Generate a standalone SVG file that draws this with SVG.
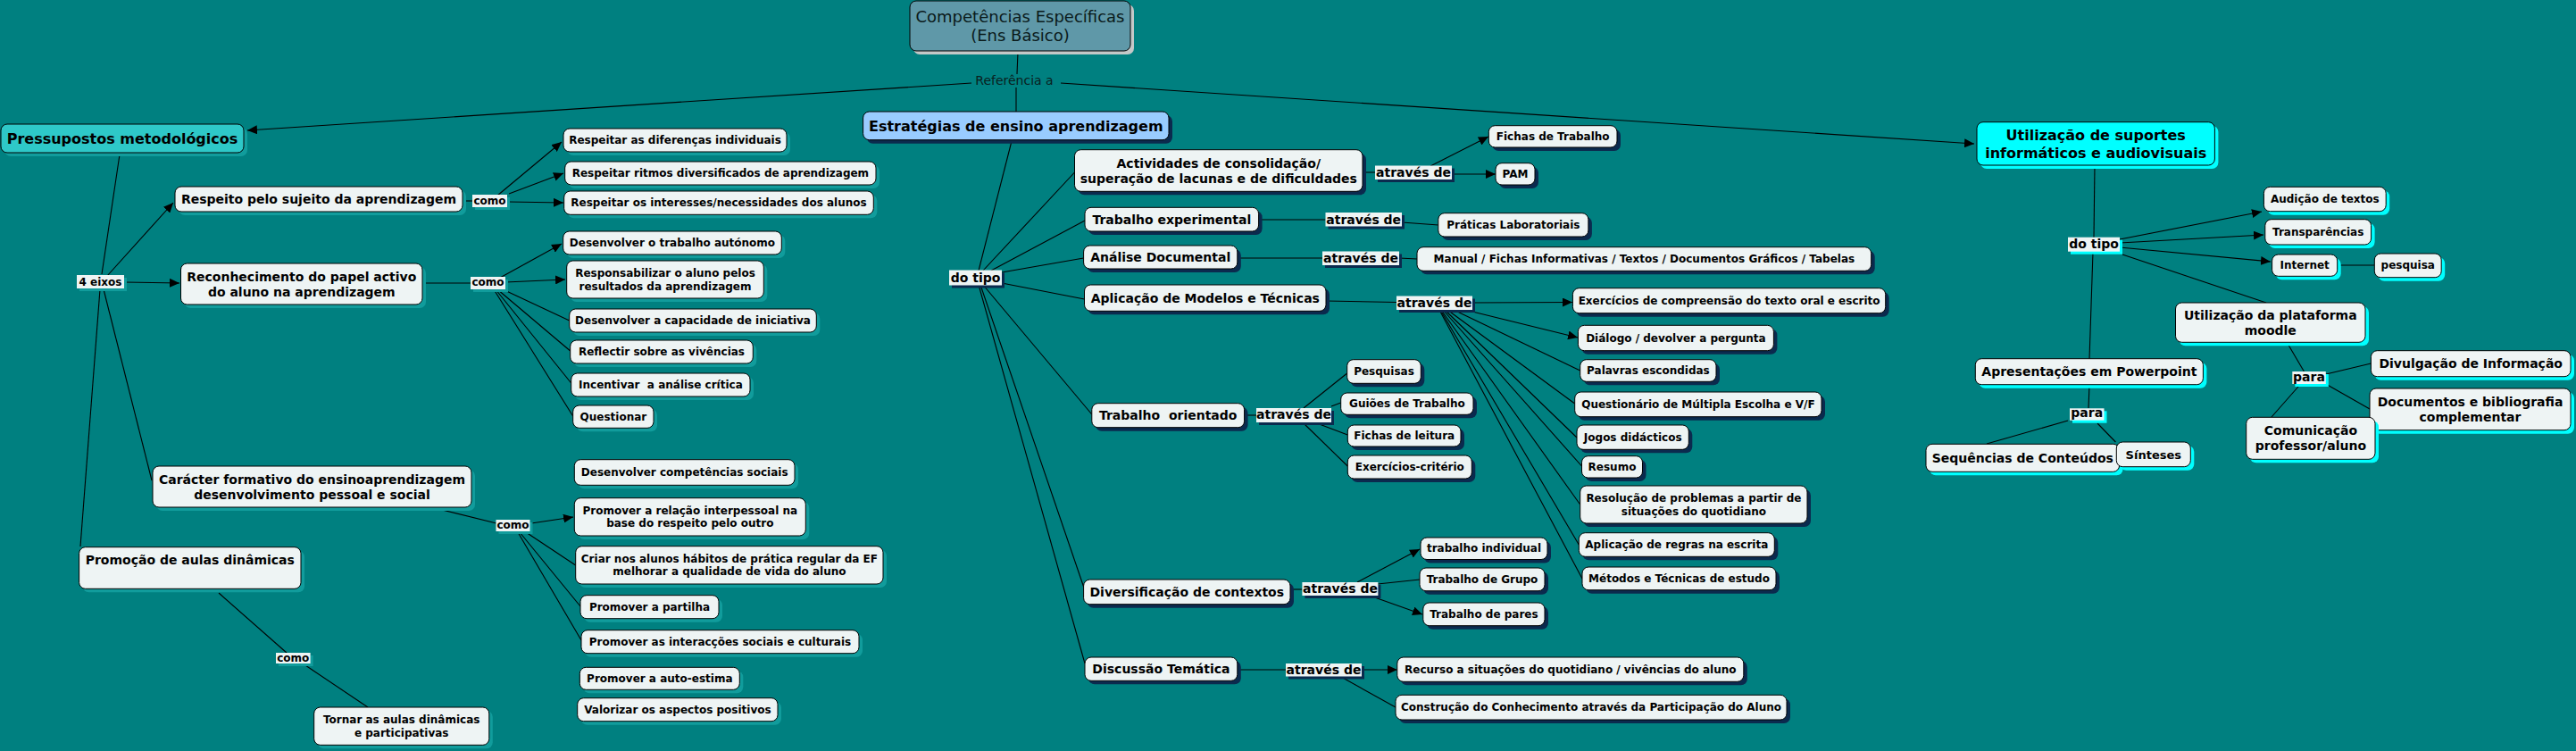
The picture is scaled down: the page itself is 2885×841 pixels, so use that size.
<svg xmlns="http://www.w3.org/2000/svg" width="2885" height="841" viewBox="0 0 2885 841">
<style>
text{font-family:"DejaVu Sans",Verdana,sans-serif;font-weight:bold;fill:#000;text-anchor:middle}
.f12{font-size:12px}.f13{font-size:13px}.f14{font-size:14px}.f16{font-size:16px}
.reg{font-weight:normal}
.b{fill:#eef4f4;stroke:#000;stroke-width:1}
.lb{fill:#eef4f4}
.st{fill:#119c9c}.sn{fill:#0b2a4e}.sc{fill:#00ffff}.sg{fill:#c4c8c8}
.pre{white-space:pre}
#connectors line{stroke:#000;stroke-width:1.1;fill:none}
#connectors .ar{marker-end:url(#arr)}
</style>
<defs>
<marker id="arr" viewBox="0 0 11 10" refX="11" refY="5" markerWidth="11" markerHeight="10" markerUnits="userSpaceOnUse" orient="auto"><path d="M0,0 L11,5 L0,10 z" fill="#000"/></marker>
</defs>
<rect x="0" y="0" width="2885" height="841" fill="#008080"/>

<g id="connectors">
<line x1="1140" y1="58" x2="1139" y2="83"/>
<line class="ar" x1="1088" y1="93" x2="277" y2="146"/>
<line class="ar" x1="1188" y1="93" x2="2211" y2="161"/>
<line x1="1138" y1="98" x2="1138" y2="125"/>
<line x1="134" y1="173" x2="114" y2="307"/>
<line class="ar" x1="120" y1="309" x2="194" y2="227"/>
<line class="ar" x1="140" y1="316" x2="201" y2="317"/>
<line x1="112" y1="324" x2="90" y2="612"/>
<line x1="116" y1="324" x2="170" y2="538"/>
<line x1="518" y1="225" x2="529" y2="225"/>
<line class="ar" x1="557" y1="219" x2="629" y2="159"/>
<line class="ar" x1="570" y1="217" x2="631" y2="194"/>
<line class="ar" x1="569" y1="226" x2="631" y2="227"/>
<line x1="473" y1="317" x2="527" y2="317"/>
<line class="ar" x1="560" y1="311" x2="629" y2="273"/>
<line class="ar" x1="566" y1="316" x2="633" y2="313"/>
<line x1="563" y1="324" x2="637.7" y2="359"/>
<line x1="557" y1="324" x2="638.7" y2="393"/>
<line x1="555" y1="324" x2="639.7" y2="429"/>
<line x1="553" y1="324" x2="641.7" y2="466"/>
<line x1="487" y1="569" x2="556" y2="586"/>
<line class="ar" x1="595" y1="586" x2="642" y2="579"/>
<line x1="589" y1="596" x2="644.7" y2="633"/>
<line x1="582" y1="596" x2="650" y2="679"/>
<line x1="580" y1="596" x2="651" y2="717"/>
<line x1="245" y1="664" x2="321" y2="731"/>
<line x1="342" y1="745" x2="412" y2="792"/>
<line x1="1133" y1="158" x2="1096" y2="303"/>
<line x1="1101" y1="303" x2="1203.5" y2="193"/>
<line x1="1110" y1="303" x2="1215" y2="247"/>
<line x1="1122" y1="305" x2="1213.6" y2="289"/>
<line x1="1122" y1="317" x2="1214.5" y2="335"/>
<line x1="1101" y1="319" x2="1222.8" y2="464"/>
<line x1="1098" y1="319" x2="1213.6" y2="657"/>
<line x1="1096" y1="319" x2="1215" y2="743"/>
<line x1="1526" y1="193" x2="1540" y2="193"/>
<line class="ar" x1="1602" y1="186" x2="1667" y2="153"/>
<line class="ar" x1="1626" y1="195" x2="1675" y2="195"/>
<line x1="1410" y1="246" x2="1484.5" y2="246"/>
<line x1="1570" y1="249" x2="1611" y2="252"/>
<line x1="1386" y1="289" x2="1481" y2="289"/>
<line x1="1567" y1="289" x2="1587" y2="290"/>
<line x1="1485" y1="337" x2="1564" y2="338.5"/>
<line class="ar" x1="1649" y1="339" x2="1761" y2="338.5"/>
<line class="ar" x1="1649" y1="349" x2="1767" y2="378"/>
<line x1="1628" y1="347" x2="1769.7" y2="415"/>
<line x1="1621" y1="347" x2="1763.7" y2="452"/>
<line x1="1618" y1="347" x2="1766" y2="490"/>
<line x1="1616" y1="347" x2="1771.5" y2="522"/>
<line x1="1614" y1="347" x2="1769.7" y2="565"/>
<line x1="1613" y1="347" x2="1768.3" y2="610"/>
<line x1="1612" y1="347" x2="1772" y2="648"/>
<line x1="1394" y1="465" x2="1407" y2="465"/>
<line x1="1460" y1="457" x2="1508.7" y2="418"/>
<line x1="1491" y1="455" x2="1501.7" y2="451"/>
<line x1="1475" y1="474" x2="1509.3" y2="487"/>
<line x1="1460" y1="474" x2="1509.3" y2="522"/>
<line x1="1445" y1="660" x2="1458" y2="660"/>
<line class="ar" x1="1520" y1="652" x2="1590" y2="615"/>
<line x1="1543" y1="654" x2="1590" y2="649"/>
<line class="ar" x1="1534" y1="667" x2="1593" y2="688"/>
<line x1="1386" y1="750" x2="1440" y2="750"/>
<line class="ar" x1="1525" y1="750" x2="1564.8" y2="750"/>
<line x1="1502" y1="758" x2="1563" y2="792"/>
<line x1="2346" y1="185" x2="2345" y2="266"/>
<line class="ar" x1="2374" y1="268" x2="2533" y2="237"/>
<line class="ar" x1="2374" y1="272" x2="2535" y2="263"/>
<line class="ar" x1="2374" y1="277" x2="2543" y2="293"/>
<line x1="2618" y1="297" x2="2659" y2="297"/>
<line x1="2377" y1="285" x2="2538" y2="339"/>
<line x1="2344" y1="282" x2="2340" y2="402"/>
<line x1="2340" y1="431" x2="2339" y2="457"/>
<line x1="2316" y1="471" x2="2225" y2="497"/>
<line x1="2349" y1="474" x2="2369.4" y2="495"/>
<line x1="2561.6" y1="384" x2="2580.4" y2="416"/>
<line x1="2605" y1="419" x2="2655.4" y2="407"/>
<line x1="2604.8" y1="430" x2="2654" y2="458"/>
<line x1="2576.6" y1="430" x2="2544" y2="467"/>
</g>

<g id="lbl-referencia"><text class="f14 reg" x="1136" y="95" style="fill:#0a2020">Referência a</text></g>

<g id="lbl-4eixos"><rect class="st" x="89" y="311" width="53" height="15"/><rect class="lb" x="86" y="308" width="53" height="15"/><text class="f12" x="112.5" y="320">4 eixos</text></g>
<g id="lbl-como1"><rect class="st" x="532" y="221" width="39" height="14"/><rect class="lb" x="529" y="218" width="39" height="14"/><text class="f12" x="548.5" y="229">como</text></g>
<g id="lbl-como2"><rect class="st" x="530" y="313" width="39" height="14"/><rect class="lb" x="527" y="310" width="39" height="14"/><text class="f12" x="546.5" y="320">como</text></g>
<g id="lbl-como3"><rect class="st" x="558.5" y="585" width="38" height="13"/><rect class="lb" x="555.5" y="582" width="38" height="13"/><text class="f12" x="574.5" y="592">como</text></g>
<g id="lbl-como4"><rect class="st" x="312" y="734" width="38.6" height="12"/><rect class="lb" x="309" y="731" width="38.6" height="12"/><text class="f12" x="328.3" y="741">como</text></g>
<g id="lbl-dotipo1"><rect class="sn" x="1066" y="305.5" width="59" height="17"/><rect class="lb" x="1063" y="302.5" width="59" height="17"/><text class="f14" x="1092.5" y="316">do tipo</text></g>
<g id="lbl-atraves1"><rect class="sn" x="1543" y="188.5" width="86" height="15.5"/><rect class="lb" x="1540" y="185.5" width="86" height="15.5"/><text class="f14" x="1583" y="198">através de</text></g>
<g id="lbl-atraves2"><rect class="sn" x="1487.5" y="241" width="85.5" height="15.5"/><rect class="lb" x="1484.5" y="238" width="85.5" height="15.5"/><text class="f14" x="1527.2" y="250.5">através de</text></g>
<g id="lbl-atraves3"><rect class="sn" x="1484" y="284.5" width="86" height="15.5"/><rect class="lb" x="1481" y="281.5" width="86" height="15.5"/><text class="f14" x="1524" y="293.5">através de</text></g>
<g id="lbl-atraves4"><rect class="sn" x="1567" y="334.5" width="85" height="15.5"/><rect class="lb" x="1564" y="331.5" width="85" height="15.5"/><text class="f14" x="1606.5" y="344">através de</text></g>
<g id="lbl-atraves5"><rect class="sn" x="1410" y="460" width="84" height="16"/><rect class="lb" x="1407" y="457" width="84" height="16"/><text class="f14" x="1449" y="469.3">através de</text></g>
<g id="lbl-atraves6"><rect class="sn" x="1461.4" y="655" width="85" height="15"/><rect class="lb" x="1458.4" y="652" width="85" height="15"/><text class="f14" x="1501" y="664.3">através de</text></g>
<g id="lbl-atraves7"><rect class="sn" x="1443" y="746" width="85" height="14.5"/><rect class="lb" x="1440" y="743" width="85" height="14.5"/><text class="f14" x="1482.5" y="755">através de</text></g>
<g id="lbl-dotipo2"><rect class="sc" x="2319" y="268.7" width="58" height="16"/><rect class="lb" x="2316" y="265.7" width="58" height="16"/><text class="f14" x="2345" y="278.3">do tipo</text></g>
<g id="lbl-para1"><rect class="sc" x="2321" y="460.3" width="38.5" height="13.4"/><rect class="lb" x="2318" y="457.3" width="38.5" height="13.4"/><text class="f14" x="2337.2" y="467.3">para</text></g>
<g id="lbl-para2"><rect class="sc" x="2570.3" y="419" width="37.5" height="14"/><rect class="lb" x="2567.3" y="416" width="37.5" height="14"/><text class="f14" x="2586" y="426.7">para</text></g>

<g id="n-competencias"><rect class="sg" x="1023" y="5" width="247" height="56" rx="7"/><rect x="1019" y="1" width="247" height="56" rx="7" fill="#5f98a8" stroke="#000"/><text class="reg" x="1142.5" y="25" style="font-size:18px;fill:#0a1a1a">Competências Específicas</text><text class="reg" x="1142.5" y="46" style="font-size:18px;fill:#0a1a1a">(Ens Básico)</text></g>

<g id="n-pressupostos"><rect class="st" x="5" y="143" width="272" height="32" rx="7"/><rect x="1" y="139" width="272" height="32" rx="7" fill="#2ec8c8" stroke="#000"/><text class="f16" x="137" y="160.8">Pressupostos metodológicos</text></g>
<g id="n-respeito"><rect class="st" x="200" y="213" width="322" height="28" rx="7"/><rect class="b" x="196" y="209" width="322" height="28" rx="7"/><text class="f14" x="357" y="228">Respeito pelo sujeito da aprendizagem</text></g>
<g id="n-reconhecimento"><rect class="st" x="206.5" y="299" width="270.5" height="46" rx="7"/><rect class="b" x="202.5" y="295" width="270.5" height="46" rx="7"/><text class="f14" x="337.8" y="314.5">Reconhecimento do papel activo</text><text class="f14" x="337.8" y="331.5">do aluno na aprendizagem</text></g>
<g id="n-caracter"><rect class="st" x="175" y="526" width="357" height="46" rx="7"/><rect class="b" x="171" y="522" width="357" height="46" rx="7"/><text class="f14" x="349.5" y="541.5">Carácter formativo do ensinoaprendizagem</text><text class="f14" x="349.5" y="558.5">desenvolvimento pessoal e social</text></g>
<g id="n-promocao"><rect class="st" x="92.6" y="616.7" width="248.4" height="46.6" rx="7"/><rect class="b" x="88.6" y="612.7" width="248.4" height="46.6" rx="7"/><text class="f14" x="212.8" y="632">Promoção de aulas dinâmicas</text></g>
<g id="n-tornar"><rect class="st" x="355.7" y="796" width="196.1" height="42.3" rx="7"/><rect class="b" x="351.7" y="792" width="196.1" height="42.3" rx="7"/><text class="f12" x="449.7" y="810.2">Tornar as aulas dinâmicas</text><text class="f12" x="449.7" y="824.7">e participativas</text></g>
<g id="n-resp-dif"><rect class="st" x="635" y="148" width="250" height="26" rx="7"/><rect class="b" x="631" y="144" width="250" height="26" rx="7"/><text class="f12" x="756" y="161">Respeitar as diferenças individuais</text></g>
<g id="n-resp-ritmos"><rect class="st" x="636.7" y="185" width="348.3" height="26" rx="7"/><rect class="b" x="632.7" y="181" width="348.3" height="26" rx="7"/><text class="f12" x="806.9" y="198">Respeitar ritmos diversificados de aprendizagem</text></g>
<g id="n-resp-int"><rect class="st" x="635.7" y="218" width="346.6" height="26.3" rx="7"/><rect class="b" x="631.7" y="214" width="346.6" height="26.3" rx="7"/><text class="f12" x="805" y="231.3">Respeitar os interesses/necessidades dos alunos</text></g>
<g id="n-desenv-trab"><rect class="st" x="634.7" y="263" width="244.6" height="26" rx="7"/><rect class="b" x="630.7" y="259" width="244.6" height="26" rx="7"/><text class="f12" x="753" y="276">Desenvolver o trabalho autónomo</text></g>
<g id="n-responsab"><rect class="st" x="638.7" y="296" width="220.6" height="42" rx="7"/><rect class="b" x="634.7" y="292" width="220.6" height="42" rx="7"/><text class="f12" x="745" y="310">Responsabilizar o aluno pelos</text><text class="f12" x="745" y="324.5">resultados da aprendizagem</text></g>
<g id="n-desenv-cap"><rect class="st" x="641.7" y="350" width="276.6" height="26" rx="7"/><rect class="b" x="637.7" y="346" width="276.6" height="26" rx="7"/><text class="f12" x="776" y="363">Desenvolver a capacidade de iniciativa</text></g>
<g id="n-reflectir"><rect class="st" x="642.7" y="385" width="204.6" height="26" rx="7"/><rect class="b" x="638.7" y="381" width="204.6" height="26" rx="7"/><text class="f12" x="741" y="398">Reflectir sobre as vivências</text></g>
<g id="n-incentivar"><rect class="st" x="643.7" y="422" width="200.3" height="26" rx="7"/><rect class="b" x="639.7" y="418" width="200.3" height="26" rx="7"/><text class="f12 pre" x="739.9" y="435">Incentivar  a análise crítica</text></g>
<g id="n-questionar"><rect class="st" x="645.7" y="458" width="90.3" height="25.3" rx="7"/><rect class="b" x="641.7" y="454" width="90.3" height="25.3" rx="7"/><text class="f12" x="686.9" y="470.7">Questionar</text></g>
<g id="n-desenv-comp"><rect class="st" x="647.3" y="518.7" width="246.7" height="28.6" rx="7"/><rect class="b" x="643.3" y="514.7" width="246.7" height="28.6" rx="7"/><text class="f12" x="766.7" y="533">Desenvolver competências sociais</text></g>
<g id="n-promover-rel"><rect class="st" x="647.3" y="561.7" width="259" height="42.3" rx="7"/><rect class="b" x="643.3" y="557.7" width="259" height="42.3" rx="7"/><text class="f12" x="772.8" y="575.9">Promover a relação interpessoal na</text><text class="f12" x="772.8" y="590.4">base do respeito pelo outro</text></g>
<g id="n-criar"><rect class="st" x="648.7" y="615.7" width="344.3" height="42.3" rx="7"/><rect class="b" x="644.7" y="611.7" width="344.3" height="42.3" rx="7"/><text class="f12" x="816.9" y="629.9">Criar nos alunos hábitos de prática regular da EF</text><text class="f12" x="816.9" y="644.4">melhorar a qualidade de vida do aluno</text></g>
<g id="n-partilha"><rect class="st" x="654" y="670.7" width="155" height="26" rx="7"/><rect class="b" x="650" y="666.7" width="155" height="26" rx="7"/><text class="f12" x="727.5" y="683.7">Promover a partilha</text></g>
<g id="n-interaccoes"><rect class="st" x="655" y="709.7" width="311" height="26" rx="7"/><rect class="b" x="651" y="705.7" width="311" height="26" rx="7"/><text class="f12" x="806.5" y="722.7">Promover as interacções sociais e culturais</text></g>
<g id="n-autoestima"><rect class="st" x="653.3" y="751.3" width="179" height="25" rx="7"/><rect class="b" x="649.3" y="747.3" width="179" height="25" rx="7"/><text class="f12" x="738.8" y="763.8">Promover a auto-estima</text></g>
<g id="n-valorizar"><rect class="st" x="650.7" y="785.7" width="224.3" height="26" rx="7"/><rect class="b" x="646.7" y="781.7" width="224.3" height="26" rx="7"/><text class="f12" x="758.9" y="798.7">Valorizar os aspectos positivos</text></g>

<g id="n-estrategias"><rect class="sn" x="970.6" y="129" width="342.4" height="31.7" rx="7"/><rect x="966.6" y="125" width="342.4" height="31.7" rx="7" fill="#99ccff" stroke="#000"/><text class="f16" x="1137.8" y="146.6">Estratégias de ensino aprendizagem</text></g>
<g id="n-actividades"><rect class="sn" x="1207.5" y="171.7" width="322.5" height="46.6" rx="7"/><rect class="b" x="1203.5" y="167.7" width="322.5" height="46.6" rx="7"/><text class="f14" x="1364.8" y="187.5">Actividades de consolidação/</text><text class="f14" x="1364.8" y="204.5">superação de lacunas e de dificuldades</text></g>
<g id="n-trab-exp"><rect class="sn" x="1219" y="236.3" width="194.6" height="26.7" rx="7"/><rect class="b" x="1215" y="232.3" width="194.6" height="26.7" rx="7"/><text class="f14" x="1312.3" y="250.7">Trabalho experimental</text></g>
<g id="n-analise"><rect class="sn" x="1217.6" y="279" width="172.2" height="26" rx="7"/><rect class="b" x="1213.6" y="275" width="172.2" height="26" rx="7"/><text class="f14" x="1299.7" y="293">Análise Documental</text></g>
<g id="n-aplicacao"><rect class="sn" x="1218.5" y="323" width="270.5" height="29.3" rx="7"/><rect class="b" x="1214.5" y="319" width="270.5" height="29.3" rx="7"/><text class="f14" x="1349.8" y="338.7">Aplicação de Modelos e Técnicas</text></g>
<g id="n-trab-orient"><rect class="sn" x="1226.8" y="455.7" width="170.8" height="27" rx="7"/><rect class="b" x="1222.8" y="451.7" width="170.8" height="27" rx="7"/><text class="f14 pre" x="1308.2" y="470.2">Trabalho  orientado</text></g>
<g id="n-diversif"><rect class="sn" x="1217.6" y="653" width="231.4" height="27.7" rx="7"/><rect class="b" x="1213.6" y="649" width="231.4" height="27.7" rx="7"/><text class="f14" x="1329.3" y="667.9">Diversificação de contextos</text></g>
<g id="n-discussao"><rect class="sn" x="1219" y="740" width="170.8" height="26.3" rx="7"/><rect class="b" x="1215" y="736" width="170.8" height="26.3" rx="7"/><text class="f14" x="1300.4" y="754.2">Discussão Temática</text></g>
<g id="n-fichas-trab"><rect class="sn" x="1671.3" y="144.7" width="143.7" height="24.3" rx="7"/><rect class="b" x="1667.3" y="140.7" width="143.7" height="24.3" rx="7"/><text class="f12" x="1739.2" y="156.9">Fichas de Trabalho</text></g>
<g id="n-pam"><rect class="sn" x="1679" y="186.7" width="44" height="24.3" rx="7"/><rect class="b" x="1675" y="182.7" width="44" height="24.3" rx="7"/><text class="f12" x="1697" y="198.9">PAM</text></g>
<g id="n-praticas"><rect class="sn" x="1614.8" y="242.7" width="168.1" height="26.3" rx="7"/><rect class="b" x="1610.8" y="238.7" width="168.1" height="26.3" rx="7"/><text class="f12" x="1694.9" y="255.9">Práticas Laboratoriais</text></g>
<g id="n-manual"><rect class="sn" x="1591" y="280.7" width="508.7" height="26.6" rx="7"/><rect class="b" x="1587" y="276.7" width="508.7" height="26.6" rx="7"/><text class="f12" x="1841.4" y="294">Manual / Fichas Informativas / Textos / Documentos Gráficos / Tabelas</text></g>
<g id="n-exercicios-comp"><rect class="sn" x="1765.4" y="326.7" width="350.3" height="28" rx="7"/><rect class="b" x="1761.4" y="322.7" width="350.3" height="28" rx="7"/><text class="f12" x="1936.6" y="340.7">Exercícios de compreensão do texto oral e escrito</text></g>
<g id="n-dialogo"><rect class="sn" x="1771.4" y="368.3" width="219" height="28.4" rx="7"/><rect class="b" x="1767.4" y="364.3" width="219" height="28.4" rx="7"/><text class="f12" x="1876.9" y="382.5">Diálogo / devolver a pergunta</text></g>
<g id="n-palavras"><rect class="sn" x="1773.7" y="406.7" width="152.3" height="24.6" rx="7"/><rect class="b" x="1769.7" y="402.7" width="152.3" height="24.6" rx="7"/><text class="f12" x="1845.9" y="419">Palavras escondidas</text></g>
<g id="n-questionario"><rect class="sn" x="1767.7" y="443" width="276.3" height="27.7" rx="7"/><rect class="b" x="1763.7" y="439" width="276.3" height="27.7" rx="7"/><text class="f12" x="1901.9" y="456.9">Questionário de Múltipla Escolha e V/F</text></g>
<g id="n-jogos"><rect class="sn" x="1770" y="480" width="125.3" height="27.3" rx="7"/><rect class="b" x="1766" y="476" width="125.3" height="27.3" rx="7"/><text class="f12" x="1828.7" y="493.7">Jogos didácticos</text></g>
<g id="n-resumo"><rect class="sn" x="1775.5" y="514.7" width="68" height="24.3" rx="7"/><rect class="b" x="1771.5" y="510.7" width="68" height="24.3" rx="7"/><text class="f12" x="1805.5" y="526.9">Resumo</text></g>
<g id="n-resolucao"><rect class="sn" x="1773.7" y="548" width="254.3" height="42" rx="7"/><rect class="b" x="1769.7" y="544" width="254.3" height="42" rx="7"/><text class="f12" x="1896.9" y="562">Resolução de problemas a partir de</text><text class="f12" x="1896.9" y="576.5">situações do quotidiano</text></g>
<g id="n-aplic-regras"><rect class="sn" x="1772.3" y="600.7" width="219" height="26.6" rx="7"/><rect class="b" x="1768.3" y="596.7" width="219" height="26.6" rx="7"/><text class="f12" x="1877.8" y="614">Aplicação de regras na escrita</text></g>
<g id="n-metodos"><rect class="sn" x="1776" y="639" width="217" height="25.7" rx="7"/><rect class="b" x="1772" y="635" width="217" height="25.7" rx="7"/><text class="f12" x="1880.5" y="651.9">Métodos e Técnicas de estudo</text></g>
<g id="n-pesquisas"><rect class="sn" x="1512.7" y="406.7" width="82.6" height="26.6" rx="7"/><rect class="b" x="1508.7" y="402.7" width="82.6" height="26.6" rx="7"/><text class="f12" x="1550" y="420">Pesquisas</text></g>
<g id="n-guioes"><rect class="sn" x="1505.7" y="444" width="148.3" height="24.3" rx="7"/><rect class="b" x="1501.7" y="440" width="148.3" height="24.3" rx="7"/><text class="f12" x="1575.9" y="456.2">Guiões de Trabalho</text></g>
<g id="n-fichas-leit"><rect class="sn" x="1513.3" y="480" width="126.7" height="24" rx="7"/><rect class="b" x="1509.3" y="476" width="126.7" height="24" rx="7"/><text class="f12" x="1572.7" y="492">Fichas de leitura</text></g>
<g id="n-exerc-crit"><rect class="sn" x="1513.3" y="514" width="139" height="26" rx="7"/><rect class="b" x="1509.3" y="510" width="139" height="26" rx="7"/><text class="f12" x="1578.8" y="527">Exercícios-critério</text></g>
<g id="n-trab-ind"><rect class="sn" x="1595" y="606" width="142" height="24.5" rx="7"/><rect class="b" x="1591" y="602" width="142" height="24.5" rx="7"/><text class="f12" x="1662" y="618.3">trabalho individual</text></g>
<g id="n-trab-grupo"><rect class="sn" x="1594" y="640" width="140" height="25.7" rx="7"/><rect class="b" x="1590" y="636" width="140" height="25.7" rx="7"/><text class="f12" x="1660" y="652.9">Trabalho de Grupo</text></g>
<g id="n-trab-pares"><rect class="sn" x="1597.8" y="679" width="136.2" height="25.7" rx="7"/><rect class="b" x="1593.8" y="675" width="136.2" height="25.7" rx="7"/><text class="f12" x="1661.9" y="691.9">Trabalho de pares</text></g>
<g id="n-recurso"><rect class="sn" x="1568.8" y="740" width="388" height="27.3" rx="7"/><rect class="b" x="1564.8" y="736" width="388" height="27.3" rx="7"/><text class="f12" x="1758.8" y="753.7">Recurso a situações do quotidiano / vivências do aluno</text></g>
<g id="n-construcao"><rect class="sn" x="1567" y="782.3" width="438" height="27.7" rx="7"/><rect class="b" x="1563" y="778.3" width="438" height="27.7" rx="7"/><text class="f12" x="1782" y="796.2">Construção do Conhecimento através da Participação do Aluno</text></g>

<g id="n-utilizacao"><rect class="sc" x="2218" y="140.7" width="266.4" height="48.3" rx="7"/><rect x="2214" y="136.7" width="266.4" height="48.3" rx="7" fill="#00ffff" stroke="#000"/><text class="f16" x="2347.2" y="157.3">Utilização de suportes</text><text class="f16" x="2347.2" y="176.8">informáticos e audiovisuais</text></g>
<g id="n-audicao"><rect class="sc" x="2539.4" y="213.3" width="136.8" height="27.4" rx="7"/><rect class="b" x="2535.4" y="209.3" width="136.8" height="27.4" rx="7"/><text class="f12" x="2603.8" y="227">Audição de textos</text></g>
<g id="n-transparencias"><rect class="sc" x="2540.8" y="249.7" width="118.8" height="28.3" rx="7"/><rect class="b" x="2536.8" y="245.7" width="118.8" height="28.3" rx="7"/><text class="f12" x="2596.2" y="263.9">Transparências</text></g>
<g id="n-internet"><rect class="sc" x="2548.6" y="289" width="73.1" height="24.3" rx="7"/><rect class="b" x="2544.6" y="285" width="73.1" height="24.3" rx="7"/><text class="f12" x="2581.2" y="301.2">Internet</text></g>
<g id="n-pesquisa"><rect class="sc" x="2663.3" y="288" width="74.9" height="26.7" rx="7"/><rect class="b" x="2659.3" y="284" width="74.9" height="26.7" rx="7"/><text class="f12" x="2696.8" y="300.5">pesquisa</text></g>
<g id="n-plataforma"><rect class="sc" x="2440.5" y="343" width="212.5" height="44.3" rx="7"/><rect class="b" x="2436.5" y="339" width="212.5" height="44.3" rx="7"/><text class="f14" x="2542.8" y="357.7">Utilização da plataforma</text><text class="f14" x="2542.8" y="374.7">moodle</text></g>
<g id="n-apresentacoes"><rect class="sc" x="2216.3" y="405.7" width="255.1" height="29" rx="7"/><rect class="b" x="2212.3" y="401.7" width="255.1" height="29" rx="7"/><text class="f14" x="2339.9" y="421.2">Apresentações em Powerpoint</text></g>
<g id="n-sequencias"><rect class="sc" x="2161" y="501.3" width="216.6" height="31" rx="7"/><rect class="b" x="2157" y="497.3" width="216.6" height="31" rx="7"/><text class="f14" x="2265.3" y="517.8">Sequências de Conteúdos</text></g>
<g id="n-sinteses"><rect class="sc" x="2374.3" y="499" width="83" height="27.7" rx="7"/><rect class="b" x="2370.3" y="495" width="83" height="27.7" rx="7"/><text class="f13" x="2411.8" y="513.6">Sínteses</text></g>
<g id="n-divulgacao"><rect class="sc" x="2659.4" y="396.7" width="223.6" height="29" rx="7"/><rect class="b" x="2655.4" y="392.7" width="223.6" height="29" rx="7"/><text class="f14" x="2767.2" y="412.2">Divulgação de Informação</text></g>
<g id="n-documentos"><rect class="sc" x="2658" y="439" width="225" height="46.7" rx="7"/><rect class="b" x="2654" y="435" width="225" height="46.7" rx="7"/><text class="f14" x="2766.5" y="454.9">Documentos e bibliografia</text><text class="f14" x="2766.5" y="471.9">complementar</text></g>
<g id="n-comunicacao"><rect class="sc" x="2519.7" y="471.3" width="144.3" height="47" rx="7"/><rect class="b" x="2515.7" y="467.3" width="144.3" height="47" rx="7"/><text class="f14" x="2587.9" y="487.3">Comunicação</text><text class="f14" x="2587.9" y="504.3">professor/aluno</text></g>
</svg>
